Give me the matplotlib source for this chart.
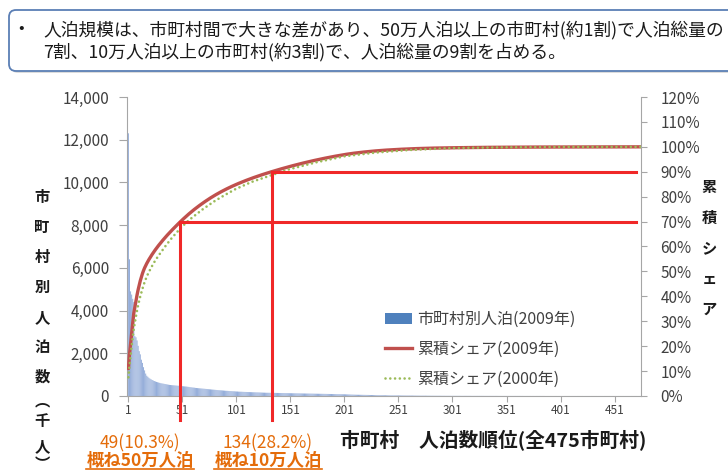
import numpy as np
import matplotlib
matplotlib.use("Agg")
import matplotlib.pyplot as plt
import matplotlib.transforms as mtransforms
from matplotlib.patches import FancyBboxPatch, Patch
from matplotlib.lines import Line2D
from matplotlib.ticker import FuncFormatter, MultipleLocator

plt.rcParams["font.family"] = ["Noto Sans CJK JP", "DejaVu Sans"]

# guest nights per municipality in 2009 (thousand), sorted by rank
guests_2009 = [
    # 1-17
    12300, 6400, 4900, 4750, 4550, 4400, 2800, 2750, 2600, 2350, 2100, 1950, 1700, 1550, 1350, 1200, 1050,
    # 18-49
    950, 900, 850, 810, 780, 750, 725, 700, 680, 660, 645, 630, 615, 600, 590, 580,
    570, 560, 550, 540, 530, 520, 515, 510, 505, 500, 495, 490, 485, 480, 475, 470,
    # 50-134
    465, 460, 455, 450, 445, 440, 430, 425, 415, 410,
    400, 395, 390, 380, 375, 370, 365, 360, 355, 350,
    345, 340, 335, 330, 325, 320, 315, 310, 305, 300,
    295, 290, 285, 280, 275, 270, 268, 265, 260, 255,
    250, 245, 242, 240, 235, 232, 230, 225, 222, 220,
    215, 212, 210, 205, 202, 200, 198, 195, 192, 190,
    189, 187, 185, 183, 181, 179, 177, 175, 173, 171,
    170, 168, 166, 164, 162, 160, 158, 156, 154, 152,
    151, 150, 149, 148, 148,
    # 135-201
    147, 146, 145, 144, 143, 142, 141, 140, 139, 138,
    137, 136, 135, 134, 133, 132, 131, 130, 129, 128,
    127, 126, 125, 124, 123, 122, 121, 120, 119, 118,
    117, 116, 115, 114, 113, 112, 111, 110, 109, 108,
    107, 106, 105, 104, 103, 102, 101, 100, 99, 98,
    97, 96, 95, 94, 93, 92, 91, 90, 89, 88,
    87, 86, 85, 84, 83, 82, 81,
    # 202-251
    79, 77, 75, 73, 71, 69, 67, 65, 63, 61, 60, 59, 58, 57, 56, 55, 54, 53, 52, 51,
    50, 49, 48, 47, 46, 45, 44, 43, 42, 41, 40, 39, 38, 37, 36, 35, 34, 33, 32, 31,
    30, 30, 29, 29, 28, 28, 27, 27, 26, 26,
    # 252-301
    25, 25, 24, 24, 23, 23, 22, 22, 21, 21, 20, 20, 19, 19, 18, 18, 17, 17, 16, 16, 15, 15, 15, 14, 14,
    14, 13, 13, 13, 12, 12, 12, 11, 11, 11, 10, 10, 10, 10, 9, 9, 9, 9, 8, 8, 8, 8, 7, 7, 7,
    # 302-351
    7, 7, 7, 7, 7, 7, 7, 6, 6, 6, 6, 6, 6, 6, 6, 6, 6, 5, 5, 5, 5, 5, 5, 5, 5,
    5, 5, 5, 5, 4, 4, 4, 4, 4, 4, 4, 4, 4, 4, 4, 4, 3, 3, 3, 3, 3, 3, 3, 3, 3,
    # 352-401
    3, 3, 3, 3, 3, 3, 3, 3, 3, 3, 3, 3, 3, 3, 3, 2, 2, 2, 2, 2, 2, 2, 2, 2, 2,
    2, 2, 2, 2, 2, 2, 2, 2, 2, 2, 1, 1, 1, 1, 1, 1, 1, 1, 1, 1, 1, 1, 1, 1, 1,
    # 402-475
    1, 1, 1, 1, 1, 1, 1, 1, 1, 1, 1, 1, 1, 1, 1, 1, 1, 1, 1, 1, 1, 1, 1, 1, 1,
    1, 1, 1, 1, 1, 1, 1, 1, 1, 1, 1, 1, 1, 1, 1, 1, 1, 1, 1, 1, 1, 1, 1, 1, 1,
    1, 1, 1, 1, 1, 1, 1, 1, 1, 1, 1, 1, 1, 1, 1, 1, 1, 1, 1, 1, 1, 1, 1, 1,
]

# cumulative share in 2000, read at selected ranks
ranks_2000 = [1, 2, 3, 4, 5, 6, 8, 10, 12, 15, 18, 22, 26, 30, 35, 40, 45, 49, 55, 60,
              70, 80, 90, 100, 115, 134, 150, 175, 201, 230, 260, 300, 350, 400, 475]
share_2000 = [0.075, 0.12, 0.16, 0.20, 0.235, 0.27, 0.32, 0.365, 0.40, 0.445, 0.48, 0.515,
              0.545, 0.57, 0.60, 0.628, 0.653, 0.672, 0.698, 0.716, 0.750, 0.780, 0.806,
              0.830, 0.859, 0.887, 0.910, 0.938, 0.962, 0.977, 0.987, 0.995, 0.998, 0.9995, 1.0]

# threshold ranks and the share they reach
cut_ranks = [49, 134]
cut_shares = [0.70, 0.90]
cut_notes = ["概ね50万人泊", "概ね10万人泊"]

xtick_ranks = [1, 51, 101, 151, 201, 251, 301, 351, 401, 451]

guests = np.array(guests_2009, dtype=float)
ranks = np.arange(1, len(guests) + 1)
share_2009 = np.cumsum(guests) / guests.sum()
n_towns = len(guests)

W, H = 728, 472
fig = plt.figure(figsize=(W / 100, H / 100), dpi=100)
fig.patch.set_facecolor("white")

grey = "#a6a6a6"
text_col = "#404040"
orange = "#e46c0a"

ax = fig.add_axes([127 / W, 1 - 396 / H, (641 - 127) / W, (396 - 97) / H])
ax2 = ax.twinx()

ax.bar(ranks, guests, width=0.9, color="#93acd9", linewidth=0, snap=False, zorder=1)
ax.set_xlim(-0.3, n_towns + 0.5)
ax.set_ylim(0, 14000)
ax.yaxis.set_major_locator(MultipleLocator(2000))
ax.yaxis.set_major_formatter(FuncFormatter(lambda v, p: f"{v:,.0f}"))
ax.set_xticks(xtick_ranks)
ax.set_xticklabels([str(r) for r in xtick_ranks])

ax2.plot(ranks, share_2009, color="#c0504d", lw=2.4, solid_capstyle="round", zorder=3)
ax2.plot(ranks_2000, share_2000, color="#9bbb59", lw=1.9,
         linestyle=(0, (0.01, 1.8)), dash_capstyle="round", zorder=4)
ax2.set_ylim(0, 1.2)
ax2.yaxis.set_major_locator(MultipleLocator(0.1))
ax2.yaxis.set_major_formatter(FuncFormatter(lambda v, p: f"{v * 100:.0f}%"))

# threshold guide lines
x_end = n_towns - 4
for r, s in zip(cut_ranks, cut_shares):
    ax2.plot([r, r], [-0.096, s], color="#f02828", lw=2.2, clip_on=False, zorder=5)
    ax2.plot([r, x_end], [s, s], color="#f02828", lw=2.2, zorder=5)

for a in (ax, ax2):
    a.spines["top"].set_visible(False)
ax.spines["right"].set_visible(False)
ax2.spines["left"].set_visible(False)
ax2.spines["bottom"].set_visible(False)
ax.spines["left"].set_color(grey)
ax.spines["left"].set_zorder(0.5)
ax.spines["bottom"].set_color(grey)
ax2.spines["right"].set_color(grey)

ax.tick_params(axis="y", direction="out", length=6, color=grey, labelsize=11,
               labelcolor=text_col, pad=7)
ax.tick_params(axis="x", direction="out", length=4, color=grey, labelsize=8.5,
               labelcolor=text_col, pad=2)
ax2.tick_params(axis="y", direction="out", length=4, color=grey, labelsize=11,
                labelcolor=text_col, pad=10)

# legend
handles = [Patch(facecolor="#4f81bd", edgecolor="none"),
           Line2D([], [], color="#c0504d", lw=2.4),
           Line2D([], [], color="#9bbb59", lw=1.9, linestyle=(0, (0.01, 1.8)),
                  dash_capstyle="round")]
labels = ["市町村別人泊(2009年)", "累積シェア(2009年)", "累積シェア(2000年)"]
ax2.legend(handles, labels, loc="upper left", bbox_to_anchor=(385 / W, 1 - 311 / H),
           bbox_transform=fig.transFigure, frameon=False, fontsize=11.5,
           handlelength=1.7, handletextpad=0.3, labelspacing=0.8,
           borderaxespad=0, borderpad=0, labelcolor=text_col)

# vertical axis titles
left_title = "市町村別人泊数︵千人︶"
left_y = [197, 227, 257, 287, 317, 347, 377, 400, 421, 446, 464]
for ch, y in zip(left_title, left_y):
    fig.text(42 / W, 1 - y / H, ch, ha="center", va="center", fontsize=11,
             fontweight="bold", color="#1a1a1a")

right_title = "累積シェア"
for i, ch in enumerate(right_title):
    fig.text(709 / W, 1 - (187 + 30.5 * i) / H, ch, ha="center", va="center",
             fontsize=11, fontweight="bold", color="#1a1a1a")

fig.text(493 / W, 1 - 441 / H, f"市町村　人泊数順位(全{n_towns}市町村)", ha="center",
         va="center", fontsize=14.2, fontweight="bold", color="#1a1a1a")

# rank notes under the guide lines
note_x = [140, 268]
notes = []
for r, note, x in zip(cut_ranks, cut_notes, note_x):
    fig.text(x / W, 1 - 443 / H, f"{r}({r / n_towns:.1%})", ha="center", va="center",
             fontsize=12.5, color=orange)
    notes.append(fig.text(x / W, 1 - 461 / H, note, ha="center", va="center",
                          fontsize=12.5, fontweight="bold", color=orange))

# header box
px = mtransforms.IdentityTransform()
shadow = FancyBboxPatch((11, H - 73), 740, 61, boxstyle="round,pad=0,rounding_size=7",
                        transform=px, facecolor="#dcdcdc", edgecolor="none", zorder=0)
box = FancyBboxPatch((9, H - 71), 740, 61, boxstyle="round,pad=0,rounding_size=7",
                     transform=px, facecolor="white", edgecolor="#5b7fb5", linewidth=1.3,
                     zorder=1)
fig.add_artist(shadow)
fig.add_artist(box)
fig.text(21 / W, 1 - 29 / H, "•", ha="center", va="center", fontsize=12, color="#1a1a1a")
fig.text(43 / W, 1 - 30 / H,
         "人泊規模は、市町村間で大きな差があり、50万人泊以上の市町村(約1割)で人泊総量の",
         ha="left", va="center", fontsize=12.8, color="#1a1a1a")
fig.text(43 / W, 1 - 52 / H,
         "7割、10万人泊以上の市町村(約3割)で、人泊総量の9割を占める。",
         ha="left", va="center", fontsize=12.8, color="#1a1a1a")

# underline the orange notes
fig.canvas.draw()
renderer = fig.canvas.get_renderer()
for t in notes:
    bb = t.get_window_extent(renderer)
    fig.add_artist(Line2D([bb.x0, bb.x1], [bb.y0 + 1, bb.y0 + 1], transform=px,
                          color=orange, lw=1.2))

fig.savefig("out.png", dpi=100, facecolor="white")
